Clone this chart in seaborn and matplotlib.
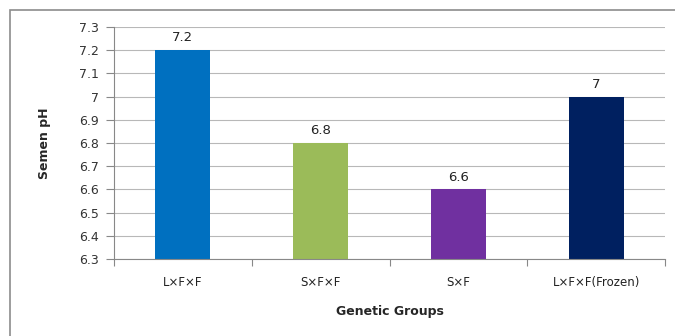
import matplotlib
matplotlib.use("Agg")
import matplotlib.pyplot as plt
import seaborn as sns
import pandas as pd
from matplotlib.patches import Rectangle

groups = ["L×F×F", "S×F×F", "S×F", "L×F×F(Frozen)"]
ph_values = [7.2, 6.8, 6.6, 7.0]
value_labels = ["7.2", "6.8", "6.6", "7"]
bar_colors = ["#0070C0", "#9BBB59", "#7030A0", "#002060"]
y_ticks = [6.3, 6.4, 6.5, 6.6, 6.7, 6.8, 6.9, 7.0, 7.1, 7.2, 7.3]
y_tick_labels = ["6.3", "6.4", "6.5", "6.6", "6.7", "6.8", "6.9", "7", "7.1", "7.2", "7.3"]

df = pd.DataFrame({"group": groups, "ph": ph_values})

sns.set_style("white")
plt.rcParams["font.family"] = ["DejaVu Sans"]

fig = plt.figure(figsize=(6.75, 3.36), dpi=100)
fig.patch.set_facecolor("white")

# outer chart frame (runs off the right and bottom edges)
fig.patches.append(Rectangle((10 / 675, -0.05), 1.05, 1 - 10 / 336 + 0.05,
                             transform=fig.transFigure, fill=False,
                             edgecolor="#8c8c8c", linewidth=1.2))

ax = fig.add_axes([114 / 675, 1 - 259 / 336, (665 - 114) / 675, (259 - 27) / 336])

sns.barplot(data=df, x="group", y="ph", hue="group", palette=bar_colors,
            width=0.4, legend=False, ax=ax, saturation=1)

# bars start at the axis floor
for patch, v in zip(ax.patches, ph_values):
    patch.set_y(6.3)
    patch.set_height(v - 6.3)
    patch.set_edgecolor("none")

ax.set_ylim(6.3, 7.3)
ax.set_xlim(-0.5, 3.5)
ax.set_yticks(y_ticks)
ax.set_yticklabels(y_tick_labels, fontsize=9, color="#333333")
ax.yaxis.grid(True, color="#b8b8b8", linewidth=0.8)
ax.set_axisbelow(True)

for s in ["top", "right"]:
    ax.spines[s].set_visible(False)
for s in ["left", "bottom"]:
    ax.spines[s].set_visible(True)
    ax.spines[s].set_color("#888888")
    ax.spines[s].set_linewidth(0.8)

ax.tick_params(axis="y", which="both", left=True, length=6, width=0.8,
               color="#888888", pad=5)

# category ticks sit at the boundaries between groups
ax.set_xticks(range(len(groups)))
ax.set_xticklabels(groups, fontsize=8.5, color="#222222")
ax.tick_params(axis="x", which="major", bottom=False, pad=9)
ax.set_xticks([-0.5, 0.5, 1.5, 2.5, 3.5], minor=True)
ax.tick_params(axis="x", which="minor", bottom=True, length=5, width=0.8,
               color="#888888")

for i, (v, lbl) in enumerate(zip(ph_values, value_labels)):
    ax.text(i, v + 0.025, lbl, ha="center", va="bottom", fontsize=9.5,
            color="#222222")

ax.set_xlabel("Genetic Groups", fontsize=9, fontweight="bold", labelpad=11)
ax.set_ylabel("Semen pH", fontsize=9, fontweight="bold", labelpad=20)

fig.savefig("out.png", dpi=100, facecolor="white")
